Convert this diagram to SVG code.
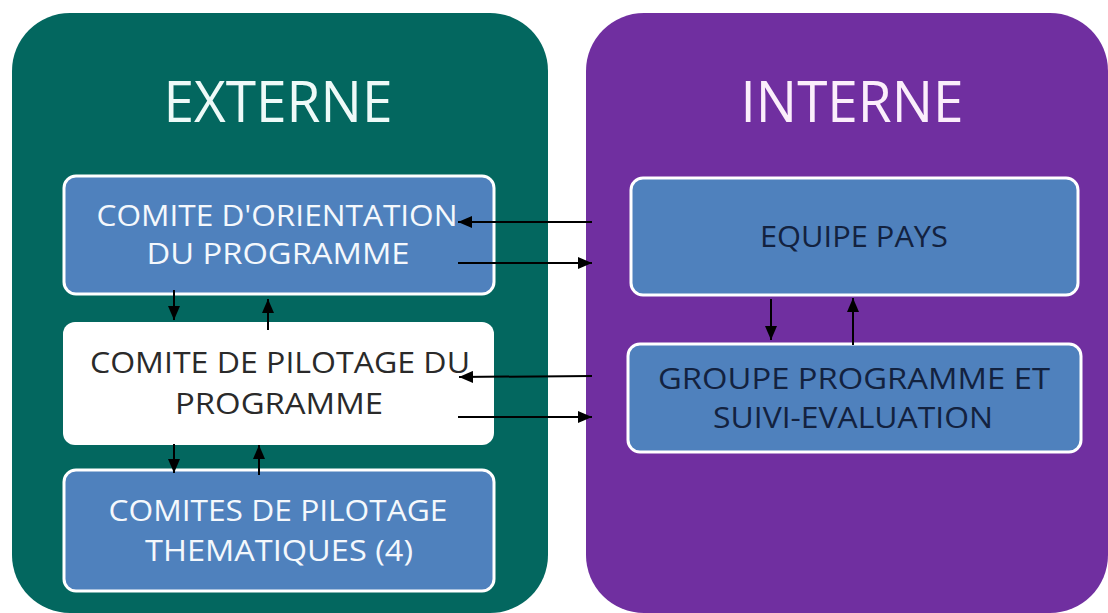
<svg xmlns="http://www.w3.org/2000/svg" width="1108" height="613" viewBox="0 0 1108 613">
<style>
.t{font-family:"Open Sans","Liberation Sans",sans-serif;text-anchor:middle}
.h{font-size:56px;fill:#eefaf8}
.hi{font-size:56px;fill:#fbeefb}
.w{font-size:30px;fill:#f4f8fc}
.k{font-size:30px;fill:#2a2a2a}
.n{font-size:29px;fill:#13223f}
.bx{fill:#4f81bd;stroke:#ffffff;stroke-width:3}
.c{stroke:#000;stroke-width:2;fill:none}
</style>
<defs>
<marker id="a" viewBox="0 0 14 12" refX="14" refY="6" markerWidth="14" markerHeight="12" markerUnits="userSpaceOnUse" orient="auto">
<path d="M0,0 L14,6 L0,12 z" fill="#000"/>
</marker>
</defs>
<rect width="1108" height="613" fill="#ffffff"/>
<g id="externe">
<rect x="12" y="13" width="536" height="600" rx="58" fill="#03675f"/>
<text class="t h" x="278" y="122" textLength="229" lengthAdjust="spacingAndGlyphs">EXTERNE</text>
</g>
<g id="interne">
<rect x="586" y="13" width="522" height="600" rx="58" fill="#702fa0"/>
<text class="t hi" x="852" y="122" textLength="223" lengthAdjust="spacingAndGlyphs">INTERNE</text>
</g>
<g id="comite-orientation">
<rect class="bx" x="64" y="176" width="430" height="118" rx="12"/>
<text class="t w" x="277" y="226" textLength="361" lengthAdjust="spacingAndGlyphs">COMITE D'ORIENTATION</text>
<text class="t w" x="278" y="264" textLength="263" lengthAdjust="spacingAndGlyphs">DU PROGRAMME</text>
</g>
<g id="comite-pilotage">
<rect x="63" y="322" width="431" height="123" rx="12" fill="#ffffff"/>
<text class="t k" x="280" y="373" textLength="380" lengthAdjust="spacingAndGlyphs">COMITE DE PILOTAGE DU</text>
<text class="t k" x="279" y="414" textLength="208" lengthAdjust="spacingAndGlyphs">PROGRAMME</text>
</g>
<g id="comites-thematiques">
<rect class="bx" x="64" y="470" width="430" height="121" rx="12"/>
<text class="t w" x="278" y="521" textLength="339" lengthAdjust="spacingAndGlyphs">COMITES DE PILOTAGE</text>
<text class="t w" x="279" y="561" textLength="268" lengthAdjust="spacingAndGlyphs">THEMATIQUES (4)</text>
</g>
<g id="equipe-pays">
<rect class="bx" x="631" y="178" width="447" height="117" rx="12"/>
<text class="t n" x="854" y="247" textLength="188" lengthAdjust="spacingAndGlyphs">EQUIPE PAYS</text>
</g>
<g id="groupe-programme">
<rect class="bx" x="628" y="344" width="453" height="108" rx="12"/>
<text class="t n" x="854" y="389" textLength="392" lengthAdjust="spacingAndGlyphs">GROUPE PROGRAMME ET</text>
<text class="t n" x="853" y="428" textLength="280" lengthAdjust="spacingAndGlyphs">SUIVI-EVALUATION</text>
</g>
<g id="connectors">
<line class="c" x1="592" y1="222" x2="458" y2="222" marker-end="url(#a)"/>
<line class="c" x1="458" y1="263" x2="592" y2="263" marker-end="url(#a)"/>
<line class="c" x1="592" y1="376" x2="459" y2="377" marker-end="url(#a)"/>
<line class="c" x1="458" y1="417" x2="592" y2="417" marker-end="url(#a)"/>
<line class="c" x1="174" y1="290" x2="174" y2="320" marker-end="url(#a)"/>
<line class="c" x1="268" y1="330" x2="268" y2="299" marker-end="url(#a)"/>
<line class="c" x1="174" y1="444" x2="174" y2="473" marker-end="url(#a)"/>
<line class="c" x1="259" y1="475" x2="259" y2="445" marker-end="url(#a)"/>
<line class="c" x1="771" y1="299" x2="771" y2="340" marker-end="url(#a)"/>
<line class="c" x1="853" y1="345" x2="853" y2="298" marker-end="url(#a)"/>
</g>
</svg>
